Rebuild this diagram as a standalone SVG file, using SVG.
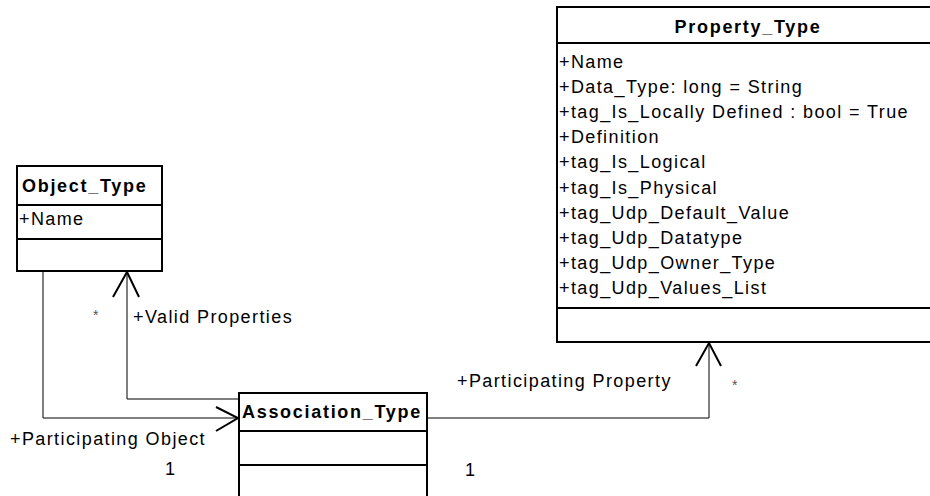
<svg xmlns="http://www.w3.org/2000/svg" width="930" height="496" viewBox="0 0 930 496">
<style>
.box{fill:#fff;stroke:#000;stroke-width:2}
.div{stroke:#000;stroke-width:2}
.con{fill:none;stroke:#000;stroke-width:1}
.arr{fill:none;stroke:#000;stroke-width:2}
text{font-family:"Liberation Sans",Arial,sans-serif;fill:#000}
.t{font-size:18px;font-weight:bold;letter-spacing:1.7px}
.a{font-size:18px;letter-spacing:1.4px}
.m{font-size:14px;fill:#555}
</style>
<rect width="930" height="496" fill="#fff"/>
<g id="connectors">
<path class="con" d="M43,271 V418 H238"/>
<path class="arr" d="M216,407 L238,418 L216,431"/>
<path class="con" d="M238,399 H127 V272"/>
<path class="arr" d="M113,297 L127,272 L139,297"/>
<path class="con" d="M427,418 H709 V343"/>
<path class="arr" d="M696,366 L709,343 L721,366"/>
<text class="a" x="10" y="445">+Participating Object</text>
<text class="a" x="165" y="475">1</text>
<text class="m" x="93" y="320">*</text>
<text class="a" x="133" y="323">+Valid Properties</text>
<text class="a" x="457" y="387">+Participating Property</text>
<text class="m" x="732" y="390">*</text>
<text class="a" x="465" y="476">1</text>
</g>
<g id="Object_Type">
<rect class="box" x="17" y="166" width="145" height="105"/>
<line class="div" x1="17" y1="205" x2="162" y2="205"/>
<line class="div" x1="17" y1="239" x2="162" y2="239"/>
<text class="t" x="22" y="192">Object_Type</text>
<text class="a" x="19" y="225">+Name</text>
</g>
<g id="Association_Type">
<rect class="box" x="239" y="393" width="188" height="120"/>
<line class="div" x1="239" y1="431" x2="427" y2="431"/>
<line class="div" x1="239" y1="465" x2="427" y2="465"/>
<text class="t" x="242" y="418">Association_Type</text>
</g>
<g id="Property_Type">
<rect class="box" x="557" y="7" width="390" height="335"/>
<line class="div" x1="557" y1="43" x2="947" y2="43"/>
<line class="div" x1="557" y1="308" x2="947" y2="308"/>
<text class="t" x="748" y="33" text-anchor="middle">Property_Type</text>
<text class="a" x="559" y="68">+Name</text>
<text class="a" x="559" y="93">+Data_Type: long = String</text>
<text class="a" x="559" y="118">+tag_Is_Locally Defined : bool = True</text>
<text class="a" x="559" y="143">+Definition</text>
<text class="a" x="559" y="168">+tag_Is_Logical</text>
<text class="a" x="559" y="194">+tag_Is_Physical</text>
<text class="a" x="559" y="219">+tag_Udp_Default_Value</text>
<text class="a" x="559" y="244">+tag_Udp_Datatype</text>
<text class="a" x="559" y="269">+tag_Udp_Owner_Type</text>
<text class="a" x="559" y="294">+tag_Udp_Values_List</text>
</g>
</svg>
